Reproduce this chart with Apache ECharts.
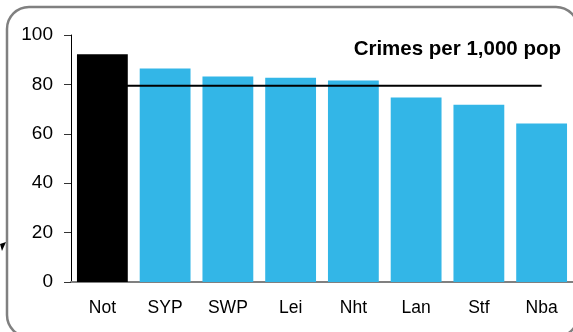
<!DOCTYPE html>
<html>
	<head>
		<meta charset="utf-8">
		<title></title>
		<script src="https://cdn.jsdelivr.net/npm/echarts@6/dist/echarts.min.js"></script>
		<style>
			html, body { margin: 0; padding: 0; background: #fff; }
		</style>
	</head>
	<body>
		<div id="main" style="width: 573px; height: 332px;"></div>
		<script type="text/javascript">
			// data
			var categories = ['Not', 'SYP', 'SWP', 'Lei', 'Nht', 'Lan', 'Stf', 'Nba'];
			var crimeRates = [92.2, 86.4, 83.2, 82.7, 81.6, 74.7, 71.8, 64.2];
			var averageLine = [79.5, 79.5, 79.5, 79.5, 79.5, 79.5, 79.5, 79.5];
			var yTicks = [0, 20, 40, 60, 80, 100];

			var font = 'Arial, "Liberation Sans", sans-serif';
			var myCharts = echarts.init(document.getElementById('main'));

			var option = {
				animation: false,
				backgroundColor: '#fff',
				title: {
					text: 'Crimes per 1,000 pop',
					right: 7,
					top: 34,
					textStyle: { fontFamily: font, fontSize: 20.5, fontWeight: 'bold', color: '#000' }
				},
				grid: { left: 71, right: 0, top: 35, bottom: 50 },
				xAxis: {
					type: 'category',
					data: categories,
					axisLine: { lineStyle: { color: '#808080', width: 2 } },
					axisTick: { show: false },
					axisLabel: { fontFamily: font, fontSize: 17.5, color: '#000', margin: 17 }
				},
				yAxis: {
					type: 'value',
					min: yTicks[0],
					max: yTicks[yTicks.length - 1],
					interval: 20,
					axisLine: { show: true, lineStyle: { color: '#000', width: 1 } },
					axisTick: { show: true, length: 7, lineStyle: { color: '#333' } },
					splitLine: { show: false },
					axisLabel: { fontFamily: font, fontSize: 19, color: '#000', margin: 18 }
				},
				series: [
					{
						name: 'Crimes',
						type: 'bar',
						barCategoryGap: '19%',
						data: crimeRates.map(function (v, i) {
							return { value: v, itemStyle: { color: i === 0 ? '#000000' : '#33b6e7' } };
						}),
						z: 2
					},
					{
						name: 'Average',
						type: 'line',
						data: averageLine,
						symbol: 'none',
						lineStyle: { color: '#000', width: 2 },
						z: 3
					}
				],
				graphic: [
					{
						type: 'rect',
						shape: { x: 7, y: 7, width: 571, height: 330, r: 22 },
						style: { fill: 'none', stroke: '#808080', lineWidth: 2.5 },
						z: 10
					},
					{
						type: 'polygon',
						shape: { points: [[0, 244], [6, 242], [2, 251]] },
						style: { fill: '#000' },
						z: 10
					}
				]
			};
			myCharts.setOption(option);
		</script>
	</body>
</html>
